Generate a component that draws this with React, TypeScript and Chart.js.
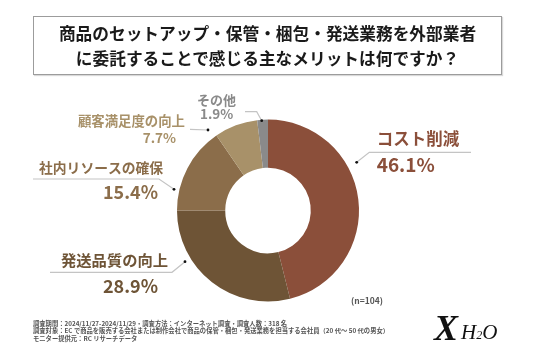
import React, { useEffect, useRef } from "react";
import { Chart, registerables } from "chart.js";

Chart.register(...registerables);

const categories = ["コスト削減", "発送品質の向上", "社内リソースの確保", "顧客満足度の向上", "その他"];
const values = [46.1, 28.9, 15.4, 7.7, 1.9];
const sliceColors = ["#8B4F3A", "#6E5436", "#8B6D4A", "#A89169", "#8A8A8A"];
const labelColors = ["#8B4F3A", "#6E5436", "#8B6D4A", "#A89169", "#8A8A8A"];

const titleLines = [
  "商品のセットアップ・保管・梱包・発送業務を外部業者",
  "に委託することで感じる主なメリットは何ですか？",
];
const footerLines = [
  "調査期間：2024/11/27-2024/11/29・調査方法：インターネット調査・調査人数：318 名",
  "調査対象：EC で商品を販売する会社または制作会社で商品の保管・梱包・発送業務を担当する会社員（20 代～ 50 代の男女）",
  "モニター提供元：RC リサーチデータ",
];
const sampleNote = "(n=104)";

// Label layout relative to the doughnut centre (style/position config, not data)
type Pt = [number, number];
interface LabelLayout {
  line: Pt[]; // polyline ending at the dot
  nameX: number; nameY: number; nameSize: number;
  pctX: number; pctY: number; pctSize: number;
  align: CanvasTextAlign;
}
const labelLayout: LabelLayout[] = [
  { line: [[203, -58.2], [101.3, -58.2], [88.7, -48.2]], nameX: 108.7, nameY: -72, nameSize: 16.5, pctX: 108.7, pctY: -45.5, pctSize: 19, align: "left" },
  { line: [[-218, 61.8], [-96, 61.8], [-83, 51.2]], nameX: -207, nameY: 49.5, nameSize: 15.3, pctX: -165, pctY: 76, pctSize: 18, align: "left" },
  { line: [[-235, -31.5], [-109, -31.5], [-94, -21.2]], nameX: -229, nameY: -43.2, nameSize: 13.8, pctX: -165, pctY: -18.5, pctSize: 18, align: "left" },
  { line: [[-78, -81.2], [-60, -80.5]], nameX: -83, nameY: -89.5, nameSize: 13.4, pctX: -92, pctY: -72.5, pctSize: 13.5, align: "right" },
  { line: [[-23, -98.8], [-11.3, -98.8], [-6.3, -89.8]], nameX: -71, nameY: -110.5, nameSize: 13, pctX: -68, pctY: -96.5, pctSize: 13.5, align: "left" },
];

const FONT = "'Noto Sans CJK JP', 'Noto Sans', sans-serif";

const leaderPlugin = {
  id: "leaderLabels",
  afterDatasetsDraw(chart: any) {
    const meta = chart.getDatasetMeta(0);
    if (!meta || !meta.data.length) return;
    const arc = meta.data[0];
    const cx = arc.x;
    const cy = arc.y;
    const ctx = chart.ctx as CanvasRenderingContext2D;
    ctx.save();
    labelLayout.forEach((l, i) => {
      // line
      ctx.beginPath();
      ctx.strokeStyle = "#c4c4c4";
      ctx.lineWidth = 1.2;
      l.line.forEach((p, j) => {
        if (j === 0) ctx.moveTo(cx + p[0], cy + p[1]);
        else ctx.lineTo(cx + p[0], cy + p[1]);
      });
      ctx.stroke();
      const d = l.line[l.line.length - 1];
      ctx.beginPath();
      ctx.fillStyle = "#111";
      ctx.arc(cx + d[0], cy + d[1], 1.4, 0, Math.PI * 2);
      ctx.fill();
      // texts
      ctx.fillStyle = labelColors[i];
      ctx.textAlign = l.align;
      ctx.textBaseline = "middle";
      ctx.font = `bold ${l.nameSize}px ${FONT}`;
      ctx.fillText(categories[i], cx + l.nameX, cy + l.nameY);
      ctx.font = `bold ${l.pctSize}px ${FONT}`;
      ctx.fillText(`${values[i].toFixed(1)}%`, cx + l.pctX, cy + l.pctY);
    });
    ctx.restore();
  },
};

export default function App() {
  const canvasRef = useRef<HTMLCanvasElement | null>(null);

  useEffect(() => {
    document.body.style.margin = "0";
    const canvas = canvasRef.current;
    if (!canvas) return;
    const chart = new Chart(canvas, {
      type: "doughnut",
      data: {
        labels: categories,
        datasets: [
          {
            data: values,
            backgroundColor: sliceColors,
            borderWidth: 0,
          },
        ],
      },
      options: {
        animation: false,
        responsive: false,
        devicePixelRatio: 1,
        cutout: "47%",
        layout: { padding: { top: 119.5, bottom: 55.5, left: 177, right: 177 } },
        plugins: {
          legend: { display: false },
          tooltip: { enabled: false },
          title: { display: false },
        },
      },
      plugins: [leaderPlugin],
    });
    return () => chart.destroy();
  }, []);

  return (
    <div style={{ position: "relative", width: 536, height: 357, background: "#fff", overflow: "hidden", fontFamily: FONT }}>
      <canvas ref={canvasRef} width={536} height={357} style={{ position: "absolute", left: 0, top: 0 }} />
      <div
        style={{
          position: "absolute", left: 33, top: 16, width: 469, height: 59, boxSizing: "border-box",
          border: "1px solid #9c9c9c", boxShadow: "1px 1px 1px rgba(0,0,0,0.15)",
          display: "flex", flexDirection: "column", alignItems: "center", justifyContent: "center",
          fontWeight: 700, fontSize: 16.7, lineHeight: "24.5px", color: "#1a1a1a", background: "transparent",
        }}
      >
        {titleLines.map((t, i) => (<div key={i} style={{ whiteSpace: "nowrap" }}>{t}</div>))}
      </div>
      <div style={{ position: "absolute", left: 351, top: 295, fontSize: 8.5, lineHeight: "10px", color: "#555", fontWeight: 700 }}>{sampleNote}</div>
      <div style={{ position: "absolute", left: 33, top: 320, fontSize: 6.3, lineHeight: "7.3px", color: "#555", fontWeight: 700 }}>
        {footerLines.map((t, i) => (<div key={i} style={{ whiteSpace: "nowrap" }}>{t}</div>))}
      </div>
      <div style={{ position: "absolute", left: 434, top: 310, fontFamily: "'Liberation Serif', serif", fontWeight: 700, fontStyle: "italic", fontSize: 36, lineHeight: "36px", color: "#111" }}>X</div>
      <div style={{ position: "absolute", left: 461, top: 322, fontFamily: "'Liberation Serif', serif", fontStyle: "italic", fontSize: 21, lineHeight: "21px", color: "#111", whiteSpace: "nowrap" }}>
        H<span style={{ fontSize: 12 }}>2</span>O
      </div>
    </div>
  );
}
